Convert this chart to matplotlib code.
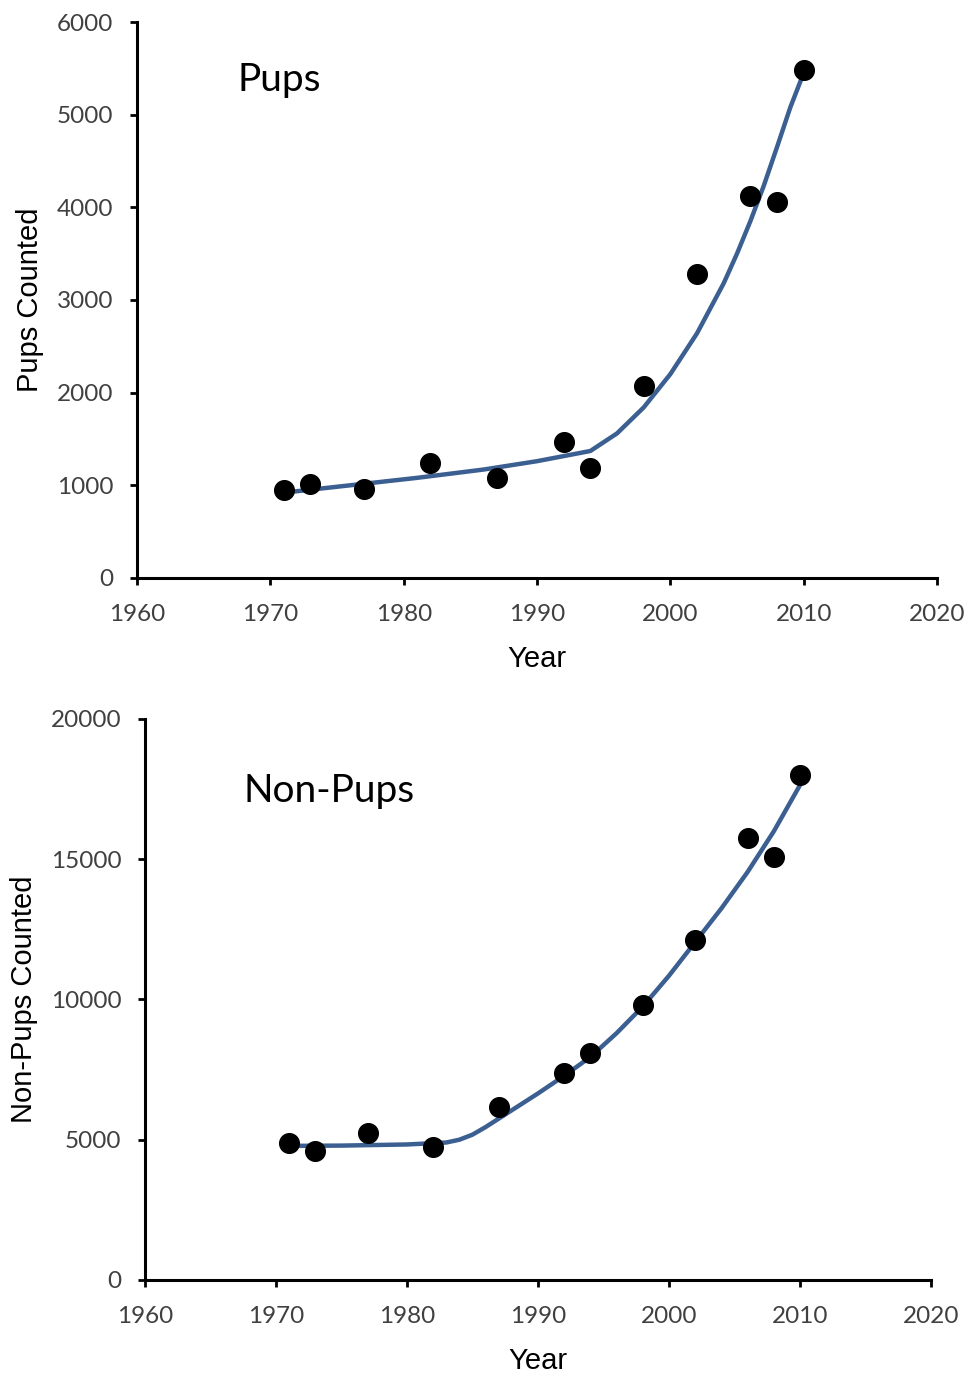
import numpy as np
import matplotlib.pyplot as plt

# survey years and counts
years = [1971, 1973, 1977, 1982, 1987, 1992, 1994, 1998, 2002, 2006, 2008, 2010]
pups = [950, 1010, 960, 1240, 1080, 1470, 1190, 2070, 3280, 4120, 4060, 5480]
nonpups = [4880, 4600, 5240, 4740, 6170, 7380, 8090, 9800, 12120, 15760, 15080, 18000]

# fitted curves
fit_years_p = [1971, 1976, 1981, 1986, 1990, 1994, 1996, 1998, 2000, 2002, 2004, 2005, 2006, 2007, 2008, 2009, 2010]
fit_pups = [920, 1000, 1080, 1170, 1260, 1370, 1560, 1840, 2200, 2640, 3180, 3500, 3850, 4230, 4650, 5080, 5450]
fit_years_n = [1971, 1975, 1980, 1983, 1984, 1985, 1986, 1988, 1990, 1992, 1994, 1996, 1998, 2000, 2002, 2004, 2006, 2008, 2010]
fit_nonpups = [4780, 4790, 4830, 4900, 5000, 5180, 5450, 6050, 6650, 7280, 7950, 8800, 9750, 10850, 12050, 13250, 14550, 16000, 17650]

line_col = "#3b5f91"
tick_font = "Lato"
label_font = "Liberation Sans"

fig = plt.figure(figsize=(9.72, 13.76), dpi=100)
ax1 = fig.add_axes([0.141, 0.580, 0.823, 0.404])
ax2 = fig.add_axes([0.149, 0.0698, 0.809, 0.4077])

panels = [
    (ax1, fit_years_p, fit_pups, pups, 6000, 1000, "Pups Counted", "Pups", 0.895),
    (ax2, fit_years_n, fit_nonpups, nonpups, 20000, 5000, "Non-Pups Counted", "Non-Pups", 0.872),
]

for ax, fx, fy, counts, ymax, ystep, ylabel, title, ty in panels:
    ax.plot(fx, fy, color=line_col, lw=3.2, solid_capstyle="round", solid_joinstyle="round", zorder=2)
    ax.scatter(years, counts, s=200, color="black", zorder=3)
    ax.set_xlim(1960, 2020)
    ax.set_ylim(0, ymax)
    ax.set_xticks(np.arange(1960, 2021, 10))
    ax.set_yticks(np.arange(0, ymax + 1, ystep))
    for s in ["top", "right"]:
        ax.spines[s].set_visible(False)
    for s in ["left", "bottom"]:
        ax.spines[s].set_linewidth(2.2)
    ax.tick_params(direction="out", length=5, width=2, labelsize=17.5, labelcolor="#404040")
    ax.tick_params(axis="x", pad=14)
    ax.tick_params(axis="y", pad=12)
    for lab in ax.get_xticklabels() + ax.get_yticklabels():
        lab.set_fontfamily(tick_font)
    ax.set_xlabel("Year", fontsize=21, family=label_font, labelpad=14)
    ax.set_ylabel(ylabel, fontsize=21, family=label_font, labelpad=9)
    ax.text(0.125, ty, title, transform=ax.transAxes, fontsize=28, family=tick_font,
            va="center", ha="left")

fig.savefig("out.png", dpi=100, facecolor="white")
